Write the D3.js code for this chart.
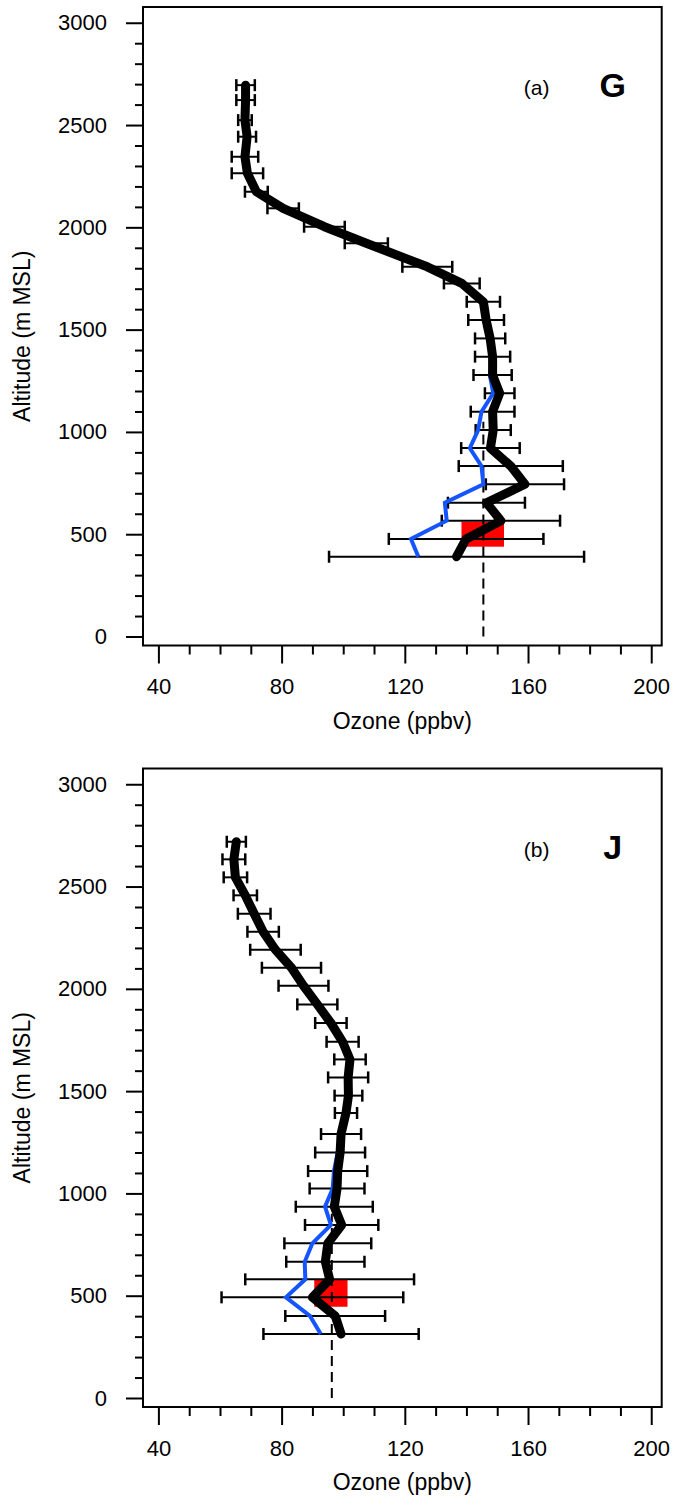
<!DOCTYPE html>
<html>
<head>
<meta charset="utf-8">
<script src="https://d3js.org/d3.v7.min.js"></script>
<style>
  body { margin: 0; background: #fff; }
  #chart-container text { font-family: "Liberation Sans", Arial, sans-serif; fill: #000; }
</style>
</head>
<body>
<div id="chart-container"></div>
<script>
"use strict"

// panel (a) - site G
const altA  = [2695, 2622, 2524, 2443, 2345, 2264, 2174, 2093, 2003, 1922, 1807, 1726, 1636, 1547,
               1457, 1368, 1278, 1189, 1099, 1009, 921, 833, 744, 654, 566, 477, 390];
const meanA = [68.3, 68.3, 68.1, 68.8, 68.1, 68.9, 71.8, 80.5, 93.9, 107.5, 127.3, 138.5, 145.5, 146.4,
               147.7, 148.5, 148.5, 150.8, 148.5, 148.7, 147.8, 154.4, 159.0, 146.5, 151.2, 139.9, 136.8];
const sdA   = [3.0, 3.0, 2.2, 2.9, 4.3, 5.1, 3.7, 5.1, 6.6, 7.0, 8.1, 5.8, 5.4, 5.8,
               4.9, 5.7, 6.2, 4.8, 7.1, 5.7, 9.5, 16.9, 12.7, 12.5, 19.2, 25.1, 41.4];
const altBlueA = [1368, 1278, 1189, 1099, 1009, 921, 833, 744, 654, 566, 477, 390];
const blueA    = [148.5, 147.6, 148.7, 144.9, 143.8, 141.1, 144.9, 145.5, 133.0, 133.6, 122.0, 124.4];
const redOzoneA = [138.4, 152.2];
const redAltA   = [439, 561];
const surfaceA  = [145.5, 1050];   // ozone, top altitude of dashed line

// panel (b) - site J
const altB  = [2719, 2633, 2545, 2457, 2367, 2279, 2191, 2103, 2015, 1924, 1833, 1741, 1655, 1567,
               1478, 1393, 1290, 1200, 1109, 1024, 935, 846, 756, 666, 580, 492, 401, 313];
const meanB = [65.3, 64.5, 65.0, 68.2, 71.1, 74.0, 78.0, 83.2, 87.1, 91.6, 96.0, 99.8, 102.2, 101.6,
               101.7, 100.9, 99.3, 99.0, 98.2, 98.0, 97.1, 99.5, 95.0, 94.2, 95.6, 90.0, 97.4, 99.3];
const sdB   = [3.1, 3.7, 3.8, 3.8, 5.3, 5.1, 8.2, 9.6, 8.1, 6.5, 5.1, 5.2, 5.1, 6.5,
               4.5, 3.6, 6.5, 8.1, 9.6, 8.9, 12.5, 11.9, 14.1, 12.7, 27.4, 29.5, 16.2, 25.2];
const altBlueB = [1290, 1200, 1109, 1024, 935, 846, 756, 666, 580, 492, 401, 313];
const blueB    = [99.3, 98.2, 97.0, 96.6, 94.1, 96.0, 90.0, 87.5, 87.7, 81.4, 89.2, 92.7];
const redOzoneB = [90.6, 101.4];
const redAltB   = [446, 580];
const surfaceB  = [96.3, 900];

const xTicks = [40, 80, 120, 160, 200];
const yTicks = [0, 500, 1000, 1500, 2000, 2500, 3000];


document.addEventListener('DOMContentLoaded', function(){
  let svg = d3.select('#chart-container')
    .append('svg')
    .attr('width', 683)
    .attr('height', 1496);

  drawPanel(svg, 7, altA, meanA, sdA, altBlueA, blueA, redOzoneA, redAltA, surfaceA, '(a)', 'G');
  drawPanel(svg, 768.5, altB, meanB, sdB, altBlueB, blueB, redOzoneB, redAltB, surfaceB, '(b)', 'J');
});


function drawPanel(svg, top, alts, means, sds, blueAlts, blues, redOz, redAlt, surface, tag, site){
  let left = 143;
  let width = 518.7;
  let height = 638.5;

  let g = svg.append('g')
    .attr('transform', 'translate(' + left + ',' + top + ')');

  /***************************************
   SCALES
  ***************************************/
  let xScale = d3.scaleLinear()
    .domain([35, 203.4])
    .range([0, width]);

  let yScale = d3.scaleLinear()
    .domain([-44, 3077])
    .range([height, 0]);

  /***************************************
   AXES
  ***************************************/
  let xMinor = d3.range(40, 201, 10).filter(v => xTicks.indexOf(v) < 0);
  let yMinor = d3.range(0, 3001, 100).filter(v => yTicks.indexOf(v) < 0);

  g.append('g')
    .attr('class', 'axis')
    .attr('transform', 'translate(0,' + height + ')')
    .call(d3.axisBottom(xScale).tickValues(xMinor).tickSize(9).tickFormat(''));

  g.append('g')
    .attr('class', 'axis')
    .attr('transform', 'translate(0,' + height + ')')
    .call(d3.axisBottom(xScale).tickValues(xTicks).tickSize(18).tickPadding(15).tickFormat(d3.format('d')));

  g.append('g')
    .attr('class', 'axis')
    .call(d3.axisLeft(yScale).tickValues(yMinor).tickSize(8).tickFormat(''));

  g.append('g')
    .attr('class', 'axis')
    .call(d3.axisLeft(yScale).tickValues(yTicks).tickSize(17).tickPadding(19).tickFormat(d3.format('d')));

  g.selectAll('.axis .domain').remove();
  g.selectAll('.axis line').attr('stroke', '#000').attr('stroke-width', 2);
  g.selectAll('.axis text')
    .style('font-size', '22px')
    .style('font-family', '"Liberation Sans", Arial, sans-serif');

  // frame
  g.append('rect')
    .attr('width', width)
    .attr('height', height)
    .attr('fill', 'none')
    .attr('stroke', '#000')
    .attr('stroke-width', 2);

  // axis titles
  g.append('text')
    .attr('x', width / 2)
    .attr('y', height + 83)
    .attr('text-anchor', 'middle')
    .style('font-size', '23px')
    .text('Ozone (ppbv)');

  g.append('text')
    .attr('transform', 'translate(-113,' + (height / 2 + 10) + ') rotate(-90)')
    .attr('text-anchor', 'middle')
    .style('font-size', '23px')
    .text('Altitude (m MSL)');

  /***************************************
   SURFACE MARKERS
  ***************************************/
  g.append('rect')
    .attr('x', xScale(redOz[0]))
    .attr('y', yScale(redAlt[1]))
    .attr('width', xScale(redOz[1]) - xScale(redOz[0]))
    .attr('height', yScale(redAlt[0]) - yScale(redAlt[1]))
    .attr('fill', '#ff0000');

  g.append('line')
    .attr('x1', xScale(surface[0]))
    .attr('x2', xScale(surface[0]))
    .attr('y1', yScale(0))
    .attr('y2', yScale(surface[1]))
    .attr('stroke', '#000')
    .attr('stroke-width', 2)
    .attr('stroke-dasharray', '10,6');

  /***************************************
   ERROR BARS
  ***************************************/
  let rows = alts.map((a, i) => ({alt: a, mean: means[i], sd: sds[i]}));
  let bars = g.append('g')
    .attr('stroke', '#000')
    .attr('stroke-width', 2);

  bars.selectAll('line.bar')
    .data(rows)
    .enter()
    .append('line')
    .attr('class', 'bar')
    .attr('x1', d => xScale(d.mean - d.sd))
    .attr('x2', d => xScale(d.mean + d.sd))
    .attr('y1', d => yScale(d.alt))
    .attr('y2', d => yScale(d.alt));

  [-1, 1].forEach(function(side){
    bars.selectAll('line.cap' + side)
      .data(rows)
      .enter()
      .append('line')
      .attr('x1', d => xScale(d.mean + side * d.sd))
      .attr('x2', d => xScale(d.mean + side * d.sd))
      .attr('y1', d => yScale(d.alt) - 6)
      .attr('y2', d => yScale(d.alt) + 6)
      .attr('stroke-width', 2.5);
  });

  /***************************************
   PROFILES
  ***************************************/
  let blueLine = d3.line()
    .x((d, i) => xScale(blues[i]))
    .y(d => yScale(d));

  g.append('path')
    .attr('d', blueLine(blueAlts))
    .attr('fill', 'none')
    .attr('stroke', '#1455ff')
    .attr('stroke-width', 4);

  let meanLine = d3.line()
    .x(d => xScale(d.mean))
    .y(d => yScale(d.alt));

  g.append('path')
    .attr('d', meanLine(rows))
    .attr('fill', 'none')
    .attr('stroke', '#000')
    .attr('stroke-width', 9)
    .attr('stroke-linejoin', 'round')
    .attr('stroke-linecap', 'round');

  // panel tag and site letter
  g.append('text')
    .attr('x', width - 125)
    .attr('y', 88)
    .attr('text-anchor', 'middle')
    .style('font-size', '21px')
    .text(tag);

  g.append('text')
    .attr('x', width - 49)
    .attr('y', 90)
    .attr('text-anchor', 'middle')
    .style('font-size', '34px')
    .style('font-weight', 'bold')
    .text(site);
}
</script>
</body>
</html>
